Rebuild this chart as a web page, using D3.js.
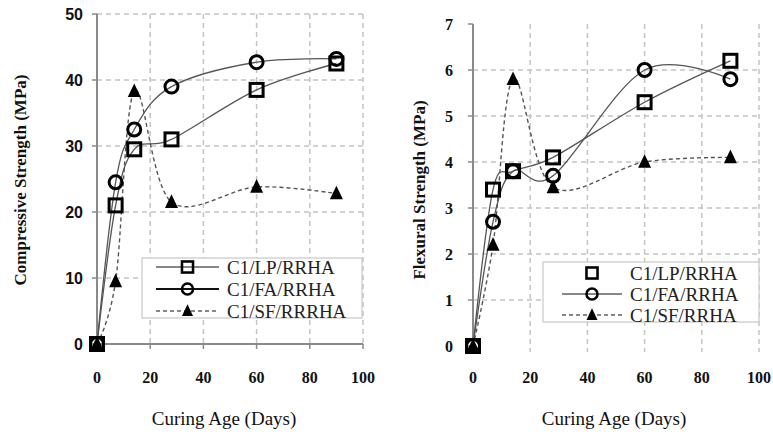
<!DOCTYPE html>
<html><head><meta charset="utf-8">
<script src="https://cdn.jsdelivr.net/npm/d3@7"></script>
<style>html,body{margin:0;padding:0;background:#fff;}</style>
</head><body>
<svg id="c" width="773" height="435"></svg>
<script>
// ---- data ----
const ages = [0, 7, 14, 28, 60, 90];
const compLP = [0, 21.0, 29.5, 31.0, 38.5, 42.5];
const compFA = [0, 24.5, 32.5, 39.0, 42.7, 43.2];
const compSF = [0, 9.5, 38.3, 21.5, 23.8, 22.8];
const flexLP = [0, 3.4, 3.8, 4.1, 5.3, 6.2];
const flexFA = [0, 2.7, 3.8, 3.7, 6.0, 5.8];
const flexSF = [0, 2.2, 5.8, 3.45, 4.0, 4.1];
const xTicks = [0, 20, 40, 60, 80, 100];
const compTicks = [0, 10, 20, 30, 40, 50];
const flexTicks = [0, 1, 2, 3, 4, 5, 6, 7];
const leftNames = ["C1/LP/RRHA", "C1/FA/RRHA", "C1/SF/RRRHA"];
const rightNames = ["C1/LP/RRHA", "C1/FA/RRHA", "C1/SF/RRHA"];

const svg = d3.select("#c");
const serif = "'Liberation Serif','Times New Roman',serif";
const sans = "'Liberation Sans',Arial,sans-serif";
const lineColor = "#555";

function panel(o) {
  const g = svg.append("g");
  const x = d3.scaleLinear().domain([0, 100]).range(o.xr);
  const y = d3.scaleLinear().domain(o.yd).range(o.yr);
  // gridlines
  g.selectAll(".hg").data(o.hgrid).enter().append("line")
    .attr("x1", x(0)).attr("x2", x(100)).attr("y1", d => y(d)).attr("y2", d => y(d))
    .attr("stroke", "#c4c4c4").attr("stroke-width", 1.5).attr("stroke-dasharray", "5,4");
  g.selectAll(".vg").data(xTicks.slice(1)).enter().append("line")
    .attr("x1", d => x(d)).attr("x2", d => x(d)).attr("y1", y(o.yd[1])).attr("y2", y(0) + (o.xAxisLine ? 0 : 6))
    .attr("stroke", "#c4c4c4").attr("stroke-width", 1.5).attr("stroke-dasharray", "5,4");
  // y axis
  g.append("line").attr("x1", x(0)).attr("x2", x(0)).attr("y1", y(o.yd[1])).attr("y2", y(0) + 4)
    .attr("stroke", "#8a8a8a").attr("stroke-width", 2);
  g.selectAll(".yt").data(o.yticks).enter().append("line")
    .attr("x1", x(0) - 5).attr("x2", x(0)).attr("y1", d => y(d)).attr("y2", d => y(d))
    .attr("stroke", "#8a8a8a").attr("stroke-width", 1.5);
  if (o.xAxisLine) {
    g.append("line").attr("x1", x(0)).attr("x2", x(100)).attr("y1", y(0)).attr("y2", y(0))
      .attr("stroke", "#8a8a8a").attr("stroke-width", 2);
    g.selectAll(".xt").data(xTicks).enter().append("line")
      .attr("x1", d => x(d)).attr("x2", d => x(d)).attr("y1", y(0)).attr("y2", y(0) + 5)
      .attr("stroke", "#8a8a8a").attr("stroke-width", 1.5);
  }
  // tick labels
  g.selectAll(".yl").data(o.yticks).enter().append("text")
    .attr("x", x(0) - o.ylabGap).attr("y", d => y(d)).attr("dy", "0.35em")
    .attr("text-anchor", "end").attr("font-family", o.yfont).attr("font-weight", "bold")
    .attr("font-size", o.yfs).attr("fill", "#111").text(d => d);
  g.selectAll(".xl").data(xTicks).enter().append("text")
    .attr("x", d => x(d)).attr("y", 383)
    .attr("text-anchor", "middle").attr("font-family", serif).attr("font-weight", "bold")
    .attr("font-size", 16).attr("fill", "#111").text(d => d);
  // titles
  g.append("text").attr("x", o.xTitleX).attr("y", 425).attr("text-anchor", "middle")
    .attr("font-family", serif).attr("font-size", 19).attr("fill", "#111").text("Curing Age (Days)");
  g.append("text").attr("transform", `translate(${o.yTitleX},${o.yTitleY}) rotate(-90)`)
    .attr("text-anchor", "middle").attr("font-family", serif).attr("font-size", 17).attr("font-weight", "bold")
    .attr("fill", "#111").text(o.yTitle);
  // lines
  const line = d3.line().x(d => x(d[0])).y(d => y(d[1])).curve(d3.curveCardinal.tension(0));
  const series = o.series;
  series.forEach(s => {
    const pts = ages.map((a, i) => [a, s.vals[i]]);
    g.append("path").attr("d", line(pts)).attr("fill", "none").attr("stroke", lineColor)
      .attr("stroke-width", s.w).attr("stroke-dasharray", s.dash || null);
  });
  series.forEach(s => {
    const pts = ages.map((a, i) => [a, s.vals[i]]);
    drawMarkers(g, pts.map(p => [x(p[0]), y(p[1])]), s.shape);
  });
  // legend
  const L = o.legend;
  g.append("rect").attr("x", L.x).attr("y", L.y).attr("width", L.w).attr("height", L.h)
    .attr("fill", "#fff").attr("stroke", "#c8c8c8").attr("stroke-width", 1.2);
  series.forEach((s, i) => {
    const ry = L.rows[i];
    if (s.legLine) {
      g.append("line").attr("x1", L.lx1).attr("x2", L.lx2).attr("y1", ry).attr("y2", ry)
        .attr("stroke", "#111").attr("stroke-width", s.legW).attr("stroke-dasharray", s.dash || null);
    }
    drawMarkers(g, [[(L.lx1 + L.lx2) / 2, ry]], s.shape, 0.85);
    g.append("text").attr("x", L.tx).attr("y", ry).attr("dy", "0.36em")
      .attr("font-family", serif).attr("font-size", 19).attr("fill", "#222").text(s.name);
  });
}

function drawMarkers(g, pts, shape, k) {
  k = k || 1;
  pts.forEach(p => {
    if (shape === "square") {
      const s = 13 * k;
      g.append("rect").attr("x", p[0] - s / 2).attr("y", p[1] - s / 2).attr("width", s).attr("height", s)
        .attr("fill", "none").attr("stroke", "#000").attr("stroke-width", 3 * k);
    } else if (shape === "circle") {
      g.append("circle").attr("cx", p[0]).attr("cy", p[1]).attr("r", 6.5 * k)
        .attr("fill", "none").attr("stroke", "#000").attr("stroke-width", 3 * k);
    } else {
      const s = 13 * k;
      g.append("path").attr("d", `M${p[0]},${p[1] - s * 0.6}L${p[0] + s / 2},${p[1] + s * 0.45}L${p[0] - s / 2},${p[1] + s * 0.45}Z`)
        .attr("fill", "#000");
    }
  });
}

panel({
  xr: [97, 363], yd: [0, 50], yr: [344, 14],
  hgrid: [10, 20, 30, 40, 50], yticks: compTicks, xAxisLine: true,
  ylabGap: 14, yfont: sans, yfs: 16,
  xTitleX: 224, yTitleX: 26, yTitleY: 180, yTitle: "Compressive Strength (MPa)",
  series: [
    { vals: compLP, shape: "square", w: 1.3, legLine: true, legW: 1.2, name: leftNames[0] },
    { vals: compFA, shape: "circle", w: 1.3, legLine: true, legW: 2.2, name: leftNames[1] },
    { vals: compSF, shape: "tri", w: 1.4, dash: "4,3", legLine: true, legW: 1.2, name: leftNames[2] }
  ],
  legend: { x: 142, y: 258, w: 220, h: 60, rows: [267, 289, 311], lx1: 156, lx2: 219, tx: 227 }
});

panel({
  xr: [473, 759], yd: [0, 7], yr: [346, 24],
  hgrid: [1, 2, 3, 4, 5, 6], yticks: flexTicks, xAxisLine: false,
  ylabGap: 20, yfont: serif, yfs: 16,
  xTitleX: 614, yTitleX: 425, yTitleY: 190, yTitle: "Flexural Strength (MPa)",
  series: [
    { vals: flexLP, shape: "square", w: 1.3, legLine: false, legW: 1.2, name: rightNames[0] },
    { vals: flexFA, shape: "circle", w: 1.3, legLine: true, legW: 1.2, name: rightNames[1] },
    { vals: flexSF, shape: "tri", w: 1.4, dash: "4,3", legLine: true, legW: 1.2, name: rightNames[2] }
  ],
  legend: { x: 543, y: 262, w: 216, h: 60, rows: [273, 294, 315], lx1: 562, lx2: 622, tx: 630 }
});
</script>
</body></html>
